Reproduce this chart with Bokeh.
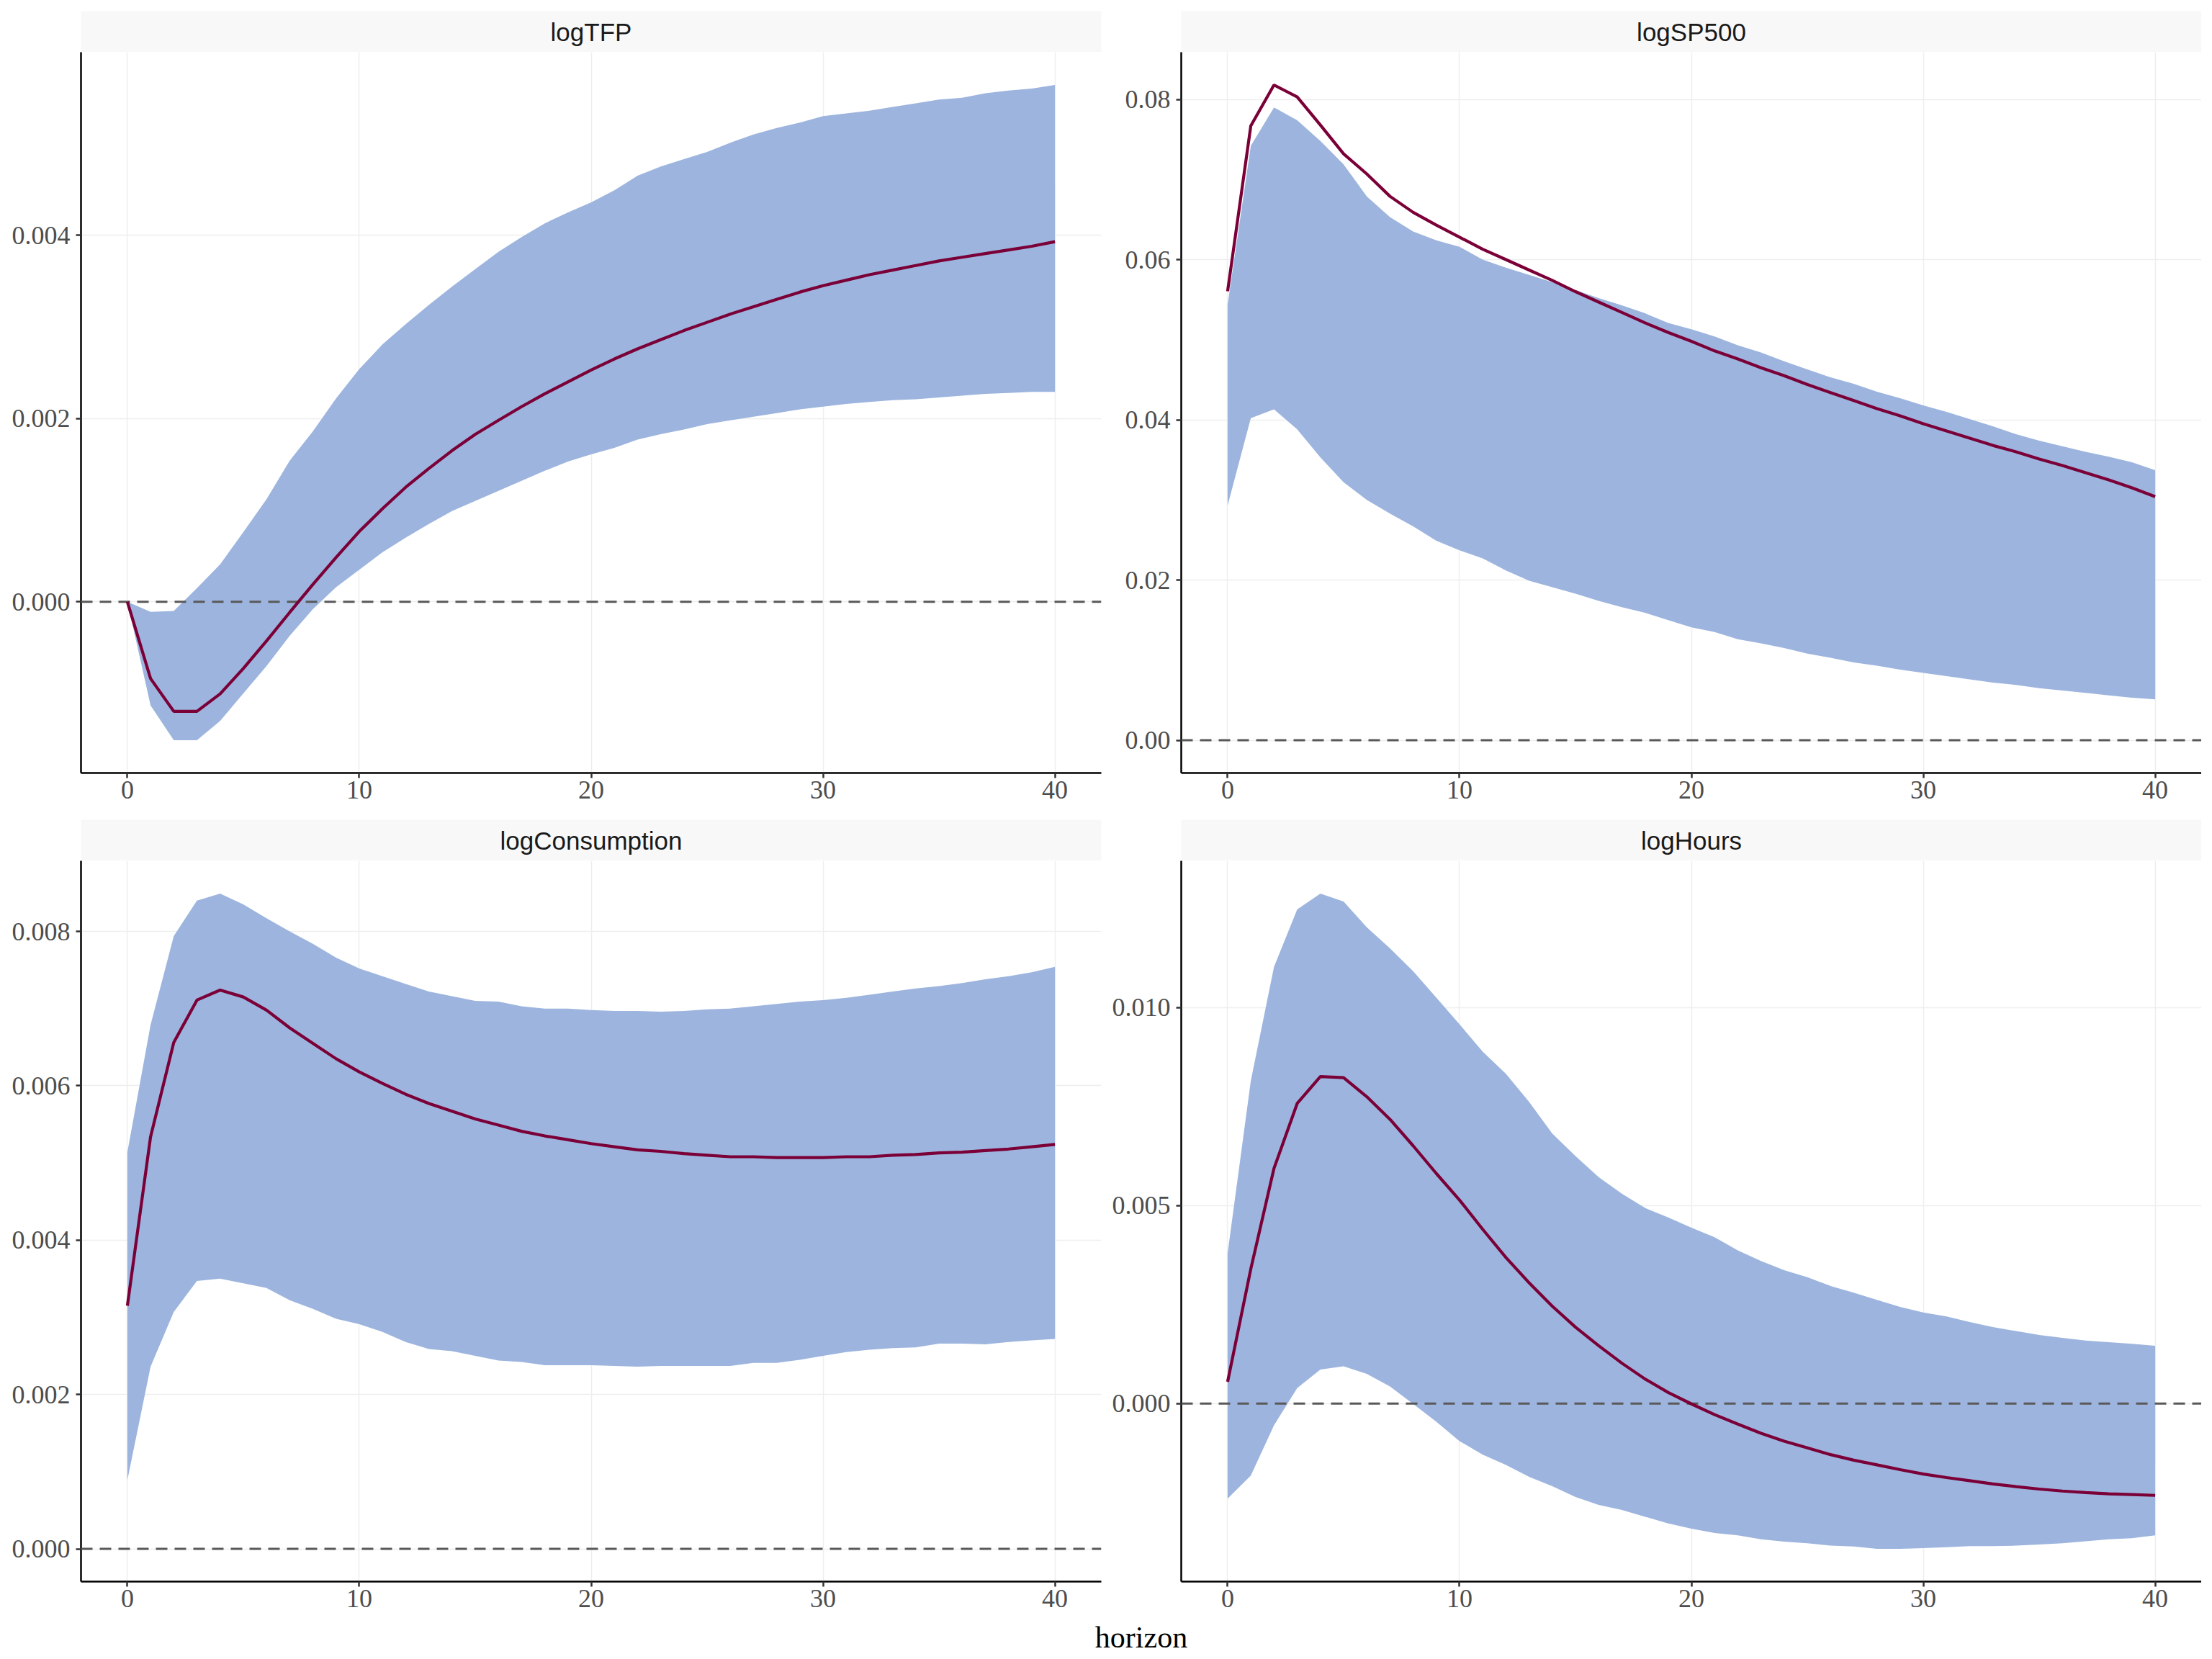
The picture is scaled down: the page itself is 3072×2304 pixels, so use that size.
from bokeh.plotting import figure
from bokeh.models import Range1d, FixedTicker, PrintfTickFormatter, Span, Label
from bokeh.layouts import column, row
from bokeh.embed import file_html
from bokeh.resources import INLINE

# ---------------- data ----------------
horizon = list(range(41))
x_ticks = [0, 10, 20, 30, 40]

panel_names = ["logTFP", "logSP500", "logConsumption", "logHours"]
x_title = "horizon"

tfp_mid = [0, -0.000837, -0.001195, -0.001195, -0.001004, -0.000727, -0.000427, -0.000115, 0.00019, 0.000485,
           0.000768, 0.001016, 0.00125, 0.001455, 0.00165, 0.001827, 0.00198, 0.00213, 0.00227, 0.0024,
           0.00253, 0.00265, 0.00276, 0.00286, 0.00296, 0.00305, 0.00314, 0.00322, 0.0033, 0.00338,
           0.00345, 0.00351, 0.00357, 0.00362, 0.00367, 0.00372, 0.00376, 0.0038, 0.00384, 0.00388, 0.00393]
tfp_hi = [0, -0.00011, -0.0001, 0.00015, 0.00041, 0.00076, 0.00112, 0.00154, 0.00186, 0.00222,
          0.00254, 0.00281, 0.00303, 0.00324, 0.00344, 0.00363, 0.00382, 0.00398, 0.00413, 0.00425,
          0.00436, 0.00449, 0.00465, 0.00475, 0.00483, 0.00491, 0.00501, 0.0051, 0.00517, 0.00523,
          0.0053, 0.00533, 0.00536, 0.0054, 0.00544, 0.00548, 0.0055, 0.00555, 0.00558, 0.0056, 0.00564]
tfp_lo = [0, -0.00113, -0.00151, -0.00151, -0.0013, -0.001, -0.0007, -0.00037, -0.00008, 0.00016,
          0.00035, 0.00054, 0.0007, 0.00085, 0.00099, 0.0011, 0.00121, 0.00132, 0.00143, 0.00153,
          0.00161, 0.00168, 0.00177, 0.00183, 0.00188, 0.00194, 0.00198, 0.00202, 0.00206, 0.0021,
          0.00213, 0.00216, 0.00218, 0.0022, 0.00221, 0.00223, 0.00225, 0.00227, 0.00228, 0.00229, 0.00229]

sp_mid = [0.05604, 0.0767, 0.0818, 0.0803, 0.0768, 0.0732, 0.0707, 0.0679, 0.0659, 0.0643,
          0.0628, 0.0613, 0.06, 0.0587, 0.0574, 0.056, 0.0547, 0.0534, 0.0521, 0.0509,
          0.0498, 0.0486, 0.0476, 0.0465, 0.0455, 0.0444, 0.0434, 0.0424, 0.0414, 0.0405,
          0.0395, 0.0386, 0.0377, 0.0368, 0.036, 0.0351, 0.0343, 0.0334, 0.0325, 0.0315, 0.0304]
sp_hi = [0.0544, 0.0742, 0.079, 0.0774, 0.0748, 0.0719, 0.0679, 0.0653, 0.0635, 0.0624,
         0.0616, 0.06, 0.059, 0.0581, 0.0572, 0.0562, 0.0552, 0.0543, 0.0533, 0.0521,
         0.0513, 0.0504, 0.0493, 0.0484, 0.0473, 0.0463, 0.0453, 0.0445, 0.0435, 0.0427,
         0.0418, 0.041, 0.0401, 0.0392, 0.0382, 0.0374, 0.0367, 0.036, 0.0354, 0.0347, 0.0337]
sp_lo = [0.0293, 0.0402, 0.0413, 0.0388, 0.0353, 0.0322, 0.03, 0.0283, 0.0267, 0.0249,
         0.0237, 0.0227, 0.0212, 0.0199, 0.0191, 0.0183, 0.0174, 0.0166, 0.0159, 0.015,
         0.0141, 0.0135, 0.0126, 0.0121, 0.0115, 0.0108, 0.0103, 0.0097, 0.0093, 0.0088,
         0.0084, 0.008, 0.0076, 0.0072, 0.0069, 0.0065, 0.0062, 0.0059, 0.0056, 0.0053, 0.0051]

cons_mid = [0.00315, 0.00534, 0.00656, 0.00711, 0.00724, 0.00715, 0.00698, 0.00675, 0.00655, 0.00635,
            0.00618, 0.00603, 0.00589, 0.00577, 0.00567, 0.00557, 0.00549, 0.00541, 0.00535, 0.0053,
            0.00525, 0.00521, 0.00517, 0.00515, 0.00512, 0.0051, 0.00508, 0.00508, 0.00507, 0.00507,
            0.00507, 0.00508, 0.00508, 0.0051, 0.00511, 0.00513, 0.00514, 0.00516, 0.00518, 0.00521, 0.00524]
cons_hi = [0.00514, 0.00679, 0.00794, 0.0084, 0.00849, 0.00835, 0.00817, 0.008, 0.00784, 0.00766,
           0.00752, 0.00742, 0.00732, 0.00722, 0.00716, 0.0071, 0.00709, 0.00703, 0.007, 0.007,
           0.00698, 0.00697, 0.00697, 0.00696, 0.00697, 0.00699, 0.007, 0.00703, 0.00706, 0.00709,
           0.00711, 0.00714, 0.00718, 0.00722, 0.00726, 0.00729, 0.00733, 0.00738, 0.00742, 0.00747, 0.00754]
cons_lo = [0.00089, 0.00236, 0.00307, 0.00347, 0.0035, 0.00344, 0.00338, 0.00322, 0.00311, 0.00298,
           0.00291, 0.00281, 0.00268, 0.00259, 0.00256, 0.0025, 0.00244, 0.00242, 0.00238, 0.00238,
           0.00238, 0.00237, 0.00236, 0.00237, 0.00237, 0.00237, 0.00237, 0.00241, 0.00241, 0.00245,
           0.0025, 0.00255, 0.00258, 0.0026, 0.00261, 0.00266, 0.00266, 0.00265, 0.00268, 0.0027, 0.00272]

hrs_mid = [0.00055, 0.0034, 0.00594, 0.00758, 0.00826, 0.00823, 0.00775, 0.00718, 0.00651, 0.00581,
           0.00514, 0.0044, 0.00369, 0.00305, 0.00246, 0.00193, 0.00146, 0.00102, 0.00062, 0.00028,
           -0.00001, -0.00028, -0.00052, -0.00075, -0.00095, -0.00112, -0.00129, -0.00143, -0.00155, -0.00167,
           -0.00178, -0.00187, -0.00195, -0.00203, -0.0021, -0.00216, -0.00221, -0.00225, -0.00228, -0.0023, -0.00232]
hrs_hi = [0.0038, 0.00815, 0.01103, 0.01248, 0.01288, 0.01268, 0.01203, 0.0115, 0.01092, 0.01025,
          0.00958, 0.00889, 0.00833, 0.00762, 0.00682, 0.00625, 0.00572, 0.0053, 0.00494, 0.0047,
          0.00444, 0.0042, 0.00387, 0.0036, 0.00337, 0.00319, 0.00297, 0.0028, 0.00262, 0.00244,
          0.0023, 0.0022, 0.00206, 0.00193, 0.00183, 0.00173, 0.00166, 0.00159, 0.00155, 0.00151, 0.00146]
hrs_lo = [-0.0024, -0.00182, -0.00055, 0.00039, 0.00086, 0.00094, 0.00075, 0.00043, -0.00001, -0.00046,
          -0.00095, -0.00129, -0.00155, -0.00185, -0.00209, -0.00236, -0.00256, -0.00269, -0.00286, -0.00303,
          -0.00316, -0.00327, -0.00333, -0.00343, -0.00349, -0.00353, -0.00359, -0.00361, -0.00367, -0.00367,
          -0.00365, -0.00363, -0.0036, -0.0036, -0.00359, -0.00356, -0.00353, -0.00348, -0.00343, -0.0034, -0.00333]

tfp_ticks = [0.0, 0.002, 0.004]
sp_ticks = [0.0, 0.02, 0.04, 0.06, 0.08]
cons_ticks = [0.0, 0.002, 0.004, 0.006, 0.008]
hrs_ticks = [0.0, 0.005, 0.010]

# ---------------- style ----------------
FW = 1417          # frame width
PH = 1001          # panel frame height
SH = 57            # strip height
LB_L = 112         # left border, left column
LB_R = 104         # left border, right column
RB_L = 7
HH = 52            # height of the x-title strip
RIBBON = "#9DB5DE"
LINE = "#7A0037"
SERIF = "Liberation Serif"
SANS = "Liberation Sans"


def strip(name, left, right, top):
    s = figure(frame_width=FW, frame_height=SH, x_range=Range1d(0, 1), y_range=Range1d(0, 1),
               x_axis_location=None, y_axis_location=None, output_backend="svg", toolbar_location=None,
               min_border_left=left, min_border_right=right, min_border_top=top, min_border_bottom=0)
    s.grid.visible = False
    s.outline_line_color = None
    s.background_fill_color = "#F8F8F8"
    s.border_fill_color = "white"
    s.add_layout(Label(x=0.5, y=0.5, text=name, text_align="center", text_baseline="middle",
                       text_font=SANS, text_font_size="35px", text_color="#1A1A1A"))
    return s


def panel(mid, lo, hi, yticks, fmt, left, right, bottom):
    dlo = min(min(lo), min(mid), 0.0)
    dhi = max(max(hi), max(mid), 0.0)
    pad = 0.05 * (dhi - dlo)
    p = figure(frame_width=FW, frame_height=PH, x_range=Range1d(-2, 42),
               y_range=Range1d(dlo - pad, dhi + pad), output_backend="svg", toolbar_location=None,
               min_border_left=left, min_border_right=right, min_border_top=0, min_border_bottom=bottom)
    p.outline_line_color = None
    p.background_fill_color = "white"
    p.border_fill_color = "white"

    p.varea(x=horizon, y1=lo, y2=hi, fill_color=RIBBON, fill_alpha=1.0)
    p.add_layout(Span(location=0, dimension="width", line_color="#595959",
                      line_width=3, line_dash="16 10"))
    p.line(x=horizon, y=mid, line_color=LINE, line_width=4.2, level="overlay")

    xt = FixedTicker(ticks=x_ticks, minor_ticks=[])
    yt = FixedTicker(ticks=yticks, minor_ticks=[])
    p.xaxis.ticker = xt
    p.yaxis.ticker = yt
    p.xgrid.ticker = xt
    p.ygrid.ticker = yt
    p.yaxis.formatter = PrintfTickFormatter(format=fmt)
    p.grid.grid_line_color = "#EEEEEE"
    p.grid.grid_line_width = 1.5

    for ax in (p.xaxis, p.yaxis):
        ax.axis_line_color = "black"
        ax.axis_line_width = 2.5
        ax.major_tick_line_color = "#333333"
        ax.major_tick_line_width = 2.5
        ax.major_tick_out = 7
        ax.major_tick_in = 0
        ax.minor_tick_line_color = None
        ax.major_label_text_font = SERIF
        ax.major_label_text_font_size = "36px"
        ax.major_label_text_color = "#4D4D4D"
    p.yaxis.major_label_standoff = 8
    p.xaxis.major_label_standoff = 4
    return p


s1 = strip(panel_names[0], LB_L, RB_L, 15)
s2 = strip(panel_names[1], LB_R, 0, 15)
p1 = panel(tfp_mid, tfp_lo, tfp_hi, tfp_ticks, "%.3f", LB_L, RB_L, 56)
p2 = panel(sp_mid, sp_lo, sp_hi, sp_ticks, "%.2f", LB_R, 0, 56)
s3 = strip(panel_names[2], LB_L, RB_L, 9)
s4 = strip(panel_names[3], LB_R, 0, 9)
p3 = panel(cons_mid, cons_lo, cons_hi, cons_ticks, "%.3f", LB_L, RB_L, 52)
p4 = panel(hrs_mid, hrs_lo, hrs_hi, hrs_ticks, "%.3f", LB_R, 0, 52)

TOTAL_W = (LB_L + FW + RB_L) + (LB_R + FW)
hf = figure(frame_width=TOTAL_W, frame_height=HH, x_range=Range1d(0, TOTAL_W), y_range=Range1d(0, 1),
            x_axis_location=None, y_axis_location=None, output_backend="svg", toolbar_location=None,
            min_border_left=0, min_border_right=0, min_border_top=0, min_border_bottom=0)
hf.grid.visible = False
hf.outline_line_color = None
hf.add_layout(Label(x=LB_L + (TOTAL_W - LB_L) / 2, y=1 - 25 / HH, text=x_title,
                    text_align="center", text_baseline="middle", text_font=SERIF,
                    text_font_size="42px", text_color="black"))

layout = column(row(s1, s2), row(p1, p2), row(s3, s4), row(p3, p4), hf)
open("out.html", "w").write(file_html(layout, INLINE))
